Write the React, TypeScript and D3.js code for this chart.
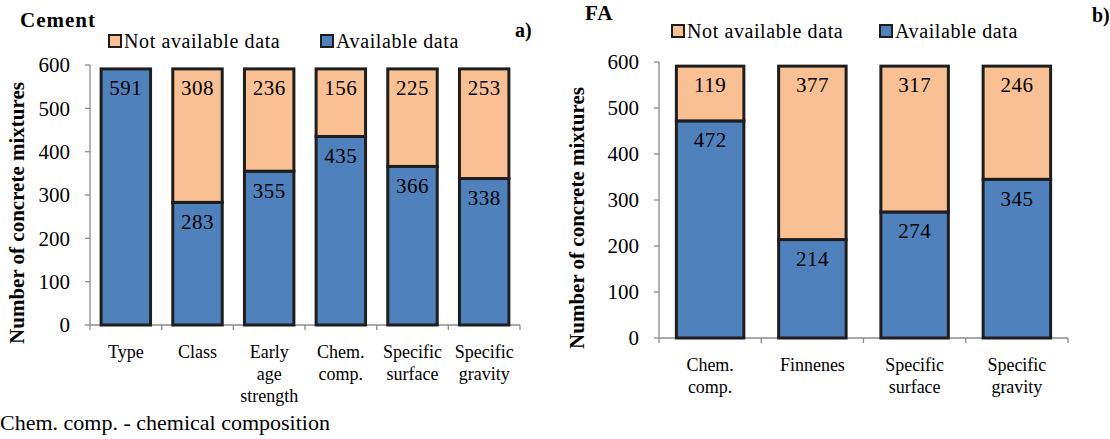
import React from 'react'
import * as d3 from 'd3'

// Cement panel
const cementCats = ['Type', 'Class', 'Early\nage\nstrength', 'Chem.\ncomp.', 'Specific\nsurface', 'Specific\ngravity']
const cementAvailable = [591, 283, 355, 435, 366, 338]
const cementNotAvailable = [0, 308, 236, 156, 225, 253]

// FA panel
const faCats = ['Chem.\ncomp.', 'Finnenes', 'Specific\nsurface', 'Specific\ngravity']
const faAvailable = [472, 214, 274, 345]
const faNotAvailable = [119, 377, 317, 246]

const yTicks = [0, 100, 200, 300, 400, 500, 600]
const seriesNames = ['Not available data', 'Available data']

const BLUE = '#4f81bd'
const ORANGE = '#f9c193'
const EDGE = '#1e1e1e'
const AXIS = '#8c8c8c'
const SERIF = '"Liberation Serif", "DejaVu Serif", serif'

const Panel = ({ cats, avail, notAvail, x0, x1, yTop, yBottom, pad, title, tag, titleX, titleY, tagX, tagY, ylabX, legendX, legendY, legend2X }) => {
  const x = d3.scaleBand().domain(cats).range([x0, x1]).paddingInner(pad).paddingOuter(pad / 2)
  const y = d3.scaleLinear().domain([0, 600]).range([yBottom, yTop])
  const step = x.step()
  const bounds = d3.range(cats.length + 1).map(i => x0 + i * step)

  return (
    <g>
      <text x={titleX} y={titleY} fontFamily={SERIF} fontWeight="bold" fontSize={21} letterSpacing={1}>{title}</text>
      <text x={tagX} y={tagY} fontFamily={SERIF} fontWeight="bold" fontSize={20}>{tag}</text>

      {/* legend */}
      {[ORANGE, BLUE].map((c, i) => {
        const lx = i === 0 ? legendX : legend2X
        return (
          <g key={i}>
            <rect x={lx} y={legendY - 13} width={12} height={12} fill={c} stroke={EDGE} strokeWidth={2} />
            <text x={lx + 15} y={legendY} fontFamily={SERIF} fontSize={20} letterSpacing={0.6}>{seriesNames[i]}</text>
          </g>
        )
      })}

      {/* y axis */}
      <line x1={x0} x2={x0} y1={y(600)} y2={y(0)} stroke={AXIS} strokeWidth={1.3} />
      {yTicks.map(t => (
        <g key={t}>
          <line x1={x0 - 5} x2={x0} y1={y(t)} y2={y(t)} stroke={AXIS} strokeWidth={1.3} />
          <text x={x0 - 20} y={y(t)} dy="0.35em" textAnchor="end" fontFamily={SERIF} fontSize={21}>{t}</text>
        </g>
      ))}
      <text
        transform={`translate(${ylabX},${(y(0) + y(600)) / 2 + 18}) rotate(-90)`}
        textAnchor="middle"
        fontFamily={SERIF}
        fontWeight="bold"
        fontSize={21}
      >
        Number of concrete mixtures
      </text>

      {/* x axis */}
      <line x1={x0} x2={x1} y1={y(0)} y2={y(0)} stroke={AXIS} strokeWidth={1.3} />
      {bounds.map((b, i) => (
        <line key={i} x1={b} x2={b} y1={y(0)} y2={y(0) + 5} stroke={AXIS} strokeWidth={1.3} />
      ))}
      {cats.map(c => (
        <text key={c} x={x(c) + x.bandwidth() / 2} y={y(0) + 33} textAnchor="middle" fontFamily={SERIF} fontSize={18}>
          {c.split('\n').map((l, j) => (
            <tspan key={j} x={x(c) + x.bandwidth() / 2} dy={j === 0 ? 0 : 22}>{l}</tspan>
          ))}
        </text>
      ))}

      {/* bars */}
      {cats.map((c, i) => {
        const a = avail[i]
        const n = notAvail[i]
        const cx = x(c) + x.bandwidth() / 2
        return (
          <g key={c}>
            <rect x={x(c)} y={y(a)} width={x.bandwidth()} height={y(0) - y(a)} fill={BLUE} stroke={EDGE} strokeWidth={3} />
            {n > 0 && (
              <rect x={x(c)} y={y(a + n)} width={x.bandwidth()} height={y(a) - y(a + n)} fill={ORANGE} stroke={EDGE} strokeWidth={3} />
            )}
            <text x={cx} y={y(a) + 19} dy="0.35em" textAnchor="middle" fontFamily={SERIF} fontSize={21} letterSpacing={0.5}>{a}</text>
            {n > 0 && (
              <text x={cx} y={y(a + n) + 19} dy="0.35em" textAnchor="middle" fontFamily={SERIF} fontSize={21} letterSpacing={0.5}>{n}</text>
            )}
          </g>
        )
      })}
    </g>
  )
}

const App = () => (
  <svg width={1110} height={439} style={{ position: 'absolute', left: 0, top: 0, background: '#fff' }}>
    <rect width={1110} height={439} fill="#fff" />
    <Panel
      cats={cementCats}
      avail={cementAvailable}
      notAvail={cementNotAvailable}
      x0={90}
      x1={520}
      yTop={65}
      yBottom={325}
      pad={0.31}
      title="Cement"
      tag="a)"
      titleX={20}
      titleY={27}
      tagX={515}
      tagY={37}
      ylabX={24}
      legendX={109}
      legend2X={321}
      legendY={48}
    />
    <Panel
      cats={faCats}
      avail={faAvailable}
      notAvail={faNotAvailable}
      x0={659}
      x1={1068}
      yTop={62}
      yBottom={338}
      pad={0.34}
      title="FA"
      tag="b)"
      titleX={585}
      titleY={20}
      tagX={1092}
      tagY={22}
      ylabX={584}
      legendX={672}
      legend2X={880}
      legendY={38}
    />
    <text x={0} y={430} fontFamily={SERIF} fontSize={22}>Chem. comp. - chemical composition</text>
  </svg>
)

export default App
